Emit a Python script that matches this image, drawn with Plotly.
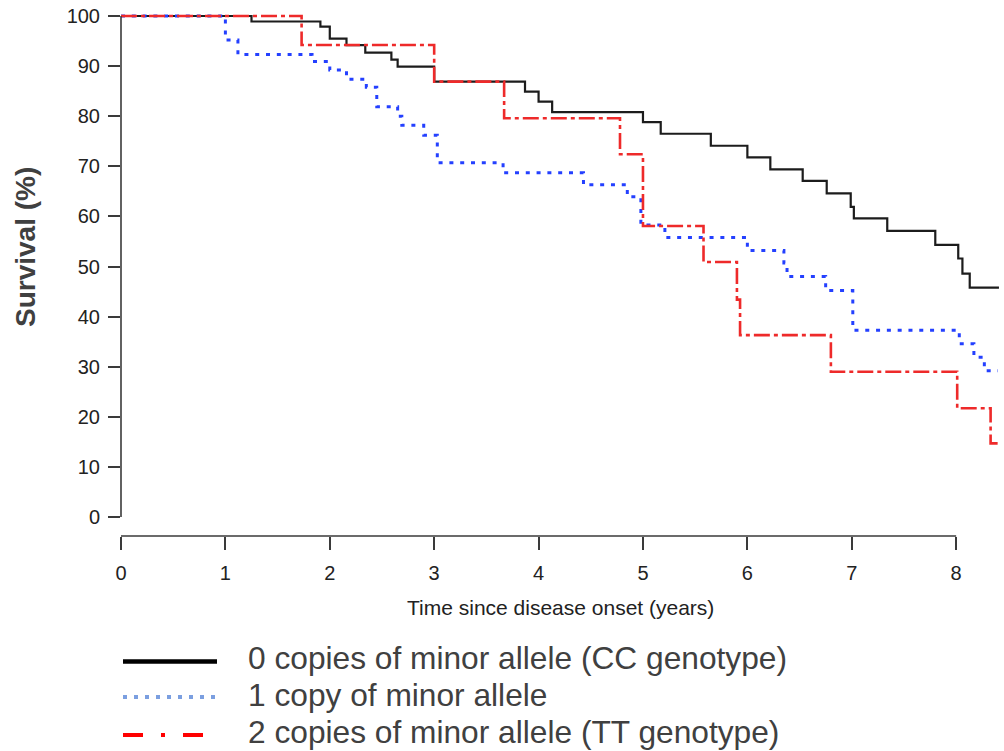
import plotly.graph_objects as go

# ---------------- data ----------------
black_t = [0, 1.25, 1.91, 2.0, 2.16, 2.34, 2.59, 2.65, 3.0, 3.87, 4.0, 4.13, 5.0, 5.17,
           5.65, 6.0, 6.22, 6.53, 6.76, 6.99, 7.02, 7.34, 7.80, 8.02, 8.06, 8.13, 8.41]
black_s = [100, 98.9, 97.9, 95.5, 94.2, 92.7, 91.3, 89.9, 86.9, 84.9, 82.9, 80.8, 78.8, 76.5,
           74.1, 71.8, 69.4, 67.1, 64.6, 61.9, 59.6, 57.1, 54.3, 51.6, 48.6, 45.8, 45.8]

blue_t = [0, 1.0, 1.12, 1.83, 2.0, 2.16, 2.35, 2.45, 2.65, 2.69, 2.9, 3.03, 3.66, 4.43,
          4.85, 4.98, 5.21, 6.0, 6.35, 6.38, 6.75, 7.01, 8.03, 8.17, 8.27, 8.40]
blue_s = [100, 95.2, 92.3, 90.9, 89.2, 87.4, 85.8, 81.9, 80.0, 78.2, 76.2, 70.7, 68.7, 66.3,
          63.9, 58.3, 55.8, 53.2, 50.7, 48.0, 45.2, 37.3, 34.6, 31.9, 29.2, 29.2]

red_t = [0, 1.73, 3.0, 3.67, 4.78, 5.0, 5.58, 5.90, 5.93, 6.80, 8.01, 8.33, 8.40]
red_s = [100, 94.2, 86.9, 79.6, 72.4, 58.1, 50.9, 43.4, 36.3, 29.0, 21.7, 14.7, 14.7]

series_names = ["0 copies of minor allele (CC genotype)",
                "1 copy of minor allele",
                "2 copies of minor allele (TT genotype)"]

x_ticks = [0, 1, 2, 3, 4, 5, 6, 7, 8]
y_ticks = [0, 10, 20, 30, 40, 50, 60, 70, 80, 90, 100]

x_title = "Time since disease onset (years)"
y_title = "Survival (%)"

# ---------------- layout geometry ----------------
W, H = 1004, 751
L, R, T, B = 121, 4, 10, 215
plot_w = W - L - R
plot_h = H - T - B


def px_x(px):
    return (px - L) / plot_w


def px_y(py):
    return (H - B - py) / plot_h


FONT = "Liberation Sans, Arial, sans-serif"
AXIS_COL = "#3a3a3a"

fig = go.Figure()

fig.add_trace(go.Scatter(x=black_t, y=black_s, mode="lines", line_shape="hv",
                         line=dict(color="#1c1c1c", width=2.2), showlegend=False,
                         name=series_names[0]))
fig.add_trace(go.Scatter(x=blue_t, y=blue_s, mode="lines", line_shape="hv",
                         line=dict(color="#2440ff", width=3, dash="4px,6.8px"),
                         showlegend=False, name=series_names[1]))
fig.add_trace(go.Scatter(x=red_t, y=red_s, mode="lines", line_shape="hv",
                         line=dict(color="#ee2a2a", width=2.6, dash="16px,4px,4px,4px"),
                         showlegend=False, name=series_names[2]))

shapes = []
# axis lines (R-style, spanning only tick range)
shapes.append(dict(type="line", xref="x", yref="paper", x0=x_ticks[0], x1=x_ticks[-1],
                   y0=0, y1=0, line=dict(color=AXIS_COL, width=1.6)))
shapes.append(dict(type="line", xref="paper", yref="y", x0=0, x1=0,
                   y0=y_ticks[0], y1=y_ticks[-1], line=dict(color=AXIS_COL, width=1.6)))

# manual legend
leg_rows = [661.5, 697, 735]
leg_text_y = [658, 694.5, 732]
leg_styles = [
    dict(color="#000000", width=4.5),
    dict(color="#7b9fe0", width=4, dash="4px,7px"),
    dict(color="#ff0000", width=4, dash="20px,18px,4px,18px"),
]
leg_x1 = [217, 217, 204]
for i in range(3):
    shapes.append(dict(type="line", xref="paper", yref="paper",
                       x0=px_x(123), x1=px_x(leg_x1[i]),
                       y0=px_y(leg_rows[i]), y1=px_y(leg_rows[i]),
                       line=leg_styles[i]))

annotations = []
for i in range(3):
    annotations.append(dict(text=series_names[i], xref="paper", yref="paper",
                            x=px_x(246), y=px_y(leg_text_y[i]),
                            xanchor="left", yanchor="middle", showarrow=False,
                            font=dict(family=FONT, size=31.7, color="#404040")))
# y title
annotations.append(dict(text="<b>" + y_title + "</b>", xref="paper", yref="paper",
                        x=px_x(25), y=px_y(247), textangle=-90,
                        xanchor="center", yanchor="middle", showarrow=False,
                        font=dict(family=FONT, size=28, color="#404040")))
# x title
annotations.append(dict(text=x_title, xref="paper", yref="paper",
                        x=px_x(560), y=px_y(607), xanchor="center", yanchor="middle",
                        showarrow=False, font=dict(family=FONT, size=21, color="#222222")))

fig.update_layout(
    width=W, height=H,
    margin=dict(l=L, r=R, t=T, b=B, pad=0),
    paper_bgcolor="white", plot_bgcolor="white",
    font=dict(family=FONT, color="#222222"),
    xaxis=dict(range=[0, 8.42], tickvals=x_ticks, ticktext=[str(v) for v in x_ticks],
               ticks="outside", ticklen=13, tickwidth=1.5, tickcolor=AXIS_COL,
               ticklabelstandoff=6,
               showline=False, showgrid=False, zeroline=False,
               tickfont=dict(family=FONT, size=20, color="#222222")),
    yaxis=dict(range=[-3.79, 101.2], tickvals=y_ticks, ticktext=[str(v) for v in y_ticks],
               ticks="outside", ticklen=12, tickwidth=1.5, tickcolor=AXIS_COL,
               ticklabelstandoff=4,
               showline=False, showgrid=False, zeroline=False,
               tickfont=dict(family=FONT, size=20, color="#222222")),
    shapes=shapes,
    annotations=annotations,
)

fig.write_html("out.html")
